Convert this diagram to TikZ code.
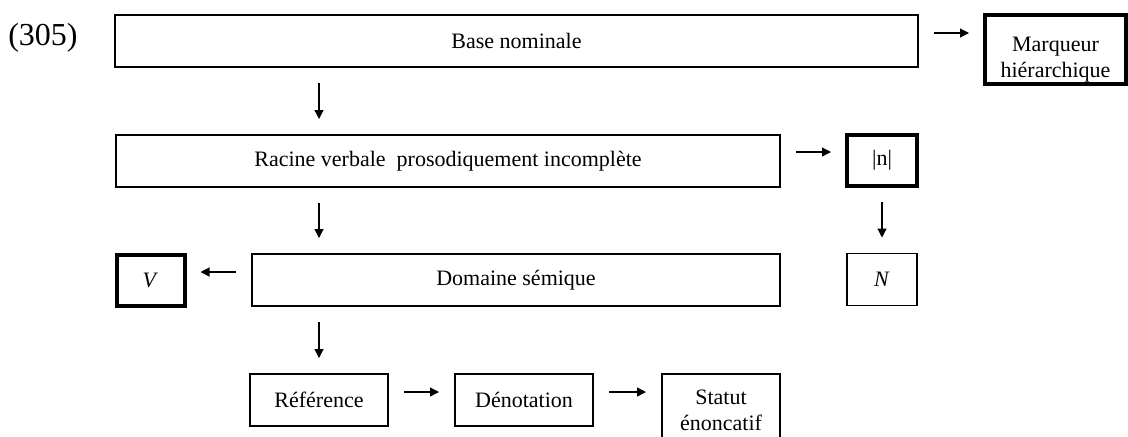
\documentclass[tikz,border=0pt]{standalone}
\usepackage{fontspec}
\setmainfont{Liberation Serif}
\usetikzlibrary{arrows.meta, positioning}

\begin{document}
\begin{tikzpicture}[
  x=0.5pt, y=-0.5pt,
  box/.style={rectangle, draw=black, line width=0.6pt, fill=white,
    inner sep=0pt, outer sep=0pt, minimum height=26pt,
    font=\fontsize{11}{13}\selectfont, align=center},
  markbox/.style={box, line width=2pt},
  arrow/.style={-{Triangle[length=4.5pt,width=4.5pt]}, line width=0.6pt,
    shorten <=8pt, shorten >=8pt},
  exnum/.style={font=\fontsize{16}{19}\selectfont}
]
\useasboundingbox (0,0) rectangle (1128,436);

%% Example number
\node[exnum] (num) at (43,38) {(305)};

%% Top row
\node[box, minimum width=401.5pt] (base) at (516.5,41) {Base nominale};
\node[markbox, minimum width=70.5pt, minimum height=34.5pt,
  text height=28pt, text depth=0pt] (marq) at (1055.5,49.5) {Marqueur\\hiérarchique};

%% Second row
\node[box, minimum width=332pt] (racine) at (448,161) {Racine verbale\ \ prosodiquement incomplète};
\node[markbox, minimum width=35pt, minimum height=25.5pt] (nbar) at (882,160.5) {|n|};

%% Third row
\node[markbox, minimum width=34pt, minimum height=25.5pt] (verb) at (150.5,280.5) {\textit{V}};
\node[box, minimum width=264pt] (dom) at (516,280) {Domaine sémique};
\node[box, minimum width=35pt] (nom) at (882,279.5) {\textit{N}};

%% Bottom row
\node[box, minimum width=69pt] (ref) at (319,400) {Référence};
\node[box, minimum width=69pt] (denot) at (524,400) {Dénotation};
\node[box, minimum width=59pt, minimum height=36pt] (statut) at (721,410) {Statut\\énoncatif};

%% Arrows
\draw[arrow] ([yshift=4pt]base.east) -- ([yshift=4pt]base.east -| marq.west);
\draw[arrow] (base.south -| ref) -- (racine.north -| ref);
\draw[arrow] ([yshift=4.5pt]racine.east) -- ([yshift=4.5pt]racine.east -| nbar.west);
\draw[arrow] (racine.south -| ref) -- (dom.north -| ref);
\draw[arrow] (nbar.south) -- (nom.north);
\draw[arrow] ([yshift=4pt]dom.west) -- ([yshift=4pt]dom.west -| verb.east);
\draw[arrow] (dom.south -| ref) -- (ref.north);
\draw[arrow] ([yshift=4pt]ref.east) -- ([yshift=4pt]ref.east -| denot.west);
\draw[arrow] ([yshift=4pt]denot.east) -- ([yshift=4pt]denot.east -| statut.west);

\end{tikzpicture}
\end{document}
